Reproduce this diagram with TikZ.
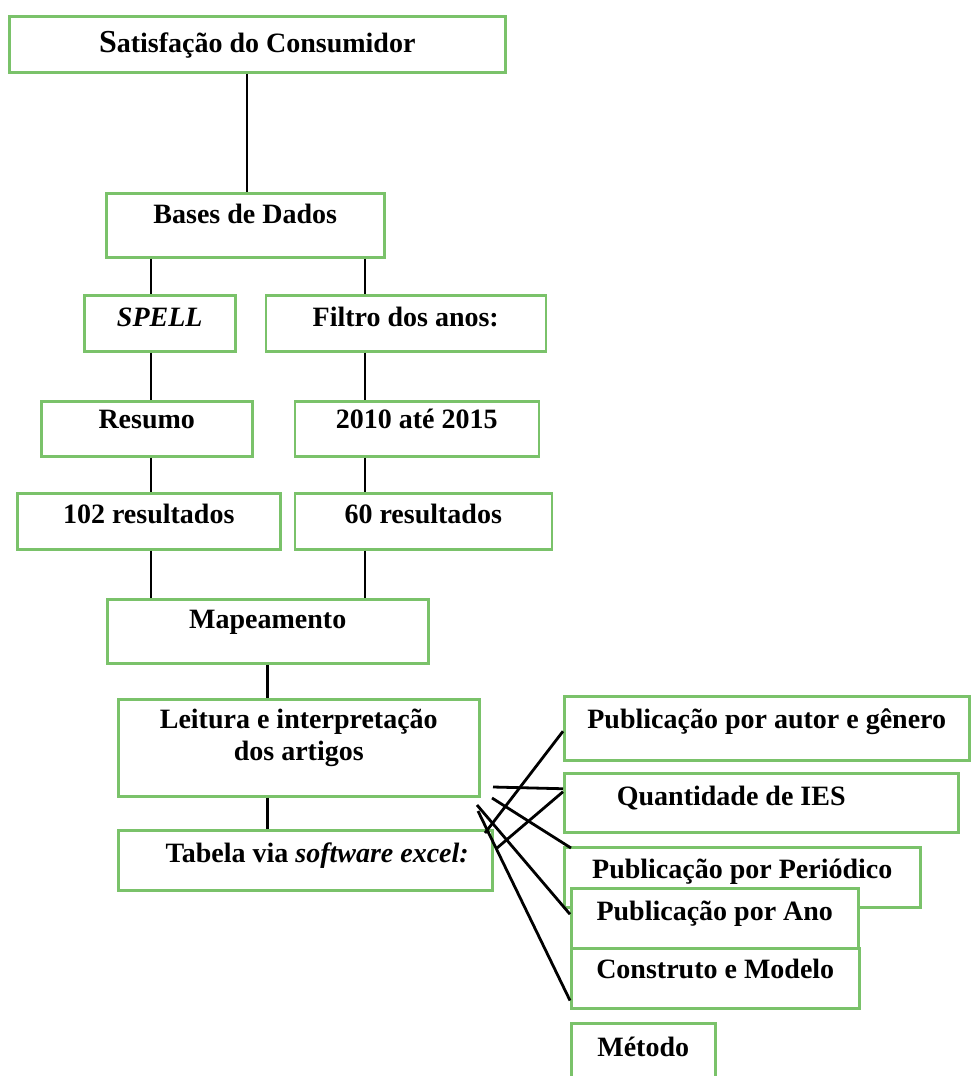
\documentclass[tikz,border=0pt]{standalone}
\usepackage{fontspec}
\setmainfont{Liberation Serif}
\usepackage{tikz}
\usetikzlibrary{positioning}
\definecolor{verde}{RGB}{122,194,106}
\tikzset{
  caixa/.style={
    draw=verde,
    line width=2.5pt,
    fill=white,
    anchor=north west,
    inner ysep=0pt,
    font=\bfseries\fontsize{28}{32}\selectfont
  },
  linha/.style={
    line width=2.8pt
  }
}

\begin{document}
\begin{tikzpicture}[x=1pt, y=-1pt]

\useasboundingbox (0,0) rectangle (970,1076);

% Tema
\node [caixa,
    minimum width=496pt,
    text height=36pt, text depth=20pt
] (tema) at (8,15) {{\fontsize{32}{36}\selectfont S}atisfação do Consumidor};

\node [caixa,
    minimum width=278pt,
    text height=30pt, text depth=34pt
] (bases) at (105,192) {Bases de Dados};

% Coluna esquerda e direita
\node [caixa,
    minimum width=151pt,
    text height=31pt, text depth=25pt
] (spell) at (83,294) {\itshape SPELL};

\node [caixa,
    minimum width=280pt,
    text height=31pt, text depth=25pt,
    right=28pt of spell
] (filtro) {Filtro dos anos:};

\node [caixa,
    minimum width=211pt,
    text height=27pt, text depth=28pt
] (resumo) at (40,400) {Resumo};

\node [caixa,
    minimum width=244pt,
    text height=27pt, text depth=28pt,
    right=40pt of resumo
] (anos) {2010 até 2015};

\node [caixa,
    minimum width=263pt,
    text height=30pt, text depth=26pt
] (res102) at (16,492) {102 resultados};

\node [caixa,
    minimum width=257pt,
    text height=30pt, text depth=26pt,
    right=12pt of res102
] (res60) {60 resultados};

\node [caixa,
    minimum width=321pt,
    text height=29pt, text depth=35pt
] (mapa) at (106,598) {Mapeamento};

\node [caixa,
    minimum width=361pt,
    text height=61pt, text depth=36pt,
    align=center
] (leitura) at (117,698) {Leitura e interpretação\\dos artigos};

\node [caixa,
    minimum width=374pt,
    text height=32pt, text depth=28pt
] (tabela) at (117,829) {\hspace*{24pt}Tabela via \textit{software excel:}};

% Resultados da tabela
\node [caixa,
    minimum width=405pt,
    text height=32pt, text depth=32pt
] (autor) at (563,695) {Publicação por autor e gênero};

\node [caixa,
    minimum width=394pt,
    text height=32pt, text depth=27pt
] (quant) at (563,772) {Quantidade de IES\hspace*{60pt}};

\node [caixa,
    minimum width=356pt,
    text height=31pt, text depth=29pt
] (periodico) at (563,846) {Publicação por Periódico};

\node [caixa,
    minimum width=287pt,
    text height=32pt, text depth=28pt
] (ano) at (570,887) {Publicação por Ano};

\node [caixa,
    minimum width=288pt,
    text height=30pt, text depth=30pt
] (construto) at (570,947) {Construto e Modelo};

\node [caixa,
    minimum width=144pt,
    text height=33pt, text depth=40pt
] (metodo) at (570,1022) {Método};

% Linhas
\coordinate (colT) at (247,0);
\coordinate (colA) at (151,0);
\coordinate (colB) at (365,0);

\draw[linha] (colT |- tema.south) -- (colT |- bases.north);
\draw[linha] (colA |- bases.south) -- (colA |- spell.north);
\draw[linha] (colB |- bases.south) -- (colB |- filtro.north);
\draw[linha] (colA |- spell.south) -- (colA |- resumo.north);
\draw[linha] (colB |- filtro.south) -- (colB |- anos.north);
\draw[linha] (colA |- resumo.south) -- (colA |- res102.north);
\draw[linha] (colB |- anos.south) -- (colB |- res60.north);
\draw[linha] (colA |- res102.south) -- (colA |- mapa.north);
\draw[linha] (colB |- res60.south) -- (colB |- mapa.north);
\draw[linha] (mapa.south) -- (mapa.south |- leitura.north);
\draw[linha] (mapa.south |- leitura.south) -- (mapa.south |- tabela.north);

\coordinate (pa) at (485,833);
\coordinate (pb) at (493,787);
\coordinate (pc) at (497,848);
\coordinate (pd) at (492,798);
\coordinate (pe) at (477,805);
\coordinate (pf) at (478,811);

\draw[linha] (pa) -- ([yshift=-3pt]autor.west);
\draw[linha] (pb) -- ([yshift=14pt]quant.west);
\draw[linha] (pc) -- ([yshift=11pt]quant.west);
\draw[linha] (pd) -- ([xshift=8pt, yshift=-2pt]periodico.north west);
\draw[linha] (pe) -- ([yshift=4pt]ano.west);
\draw[linha] (pf) -- ([yshift=9pt]construto.south west);

\end{tikzpicture}
\end{document}
